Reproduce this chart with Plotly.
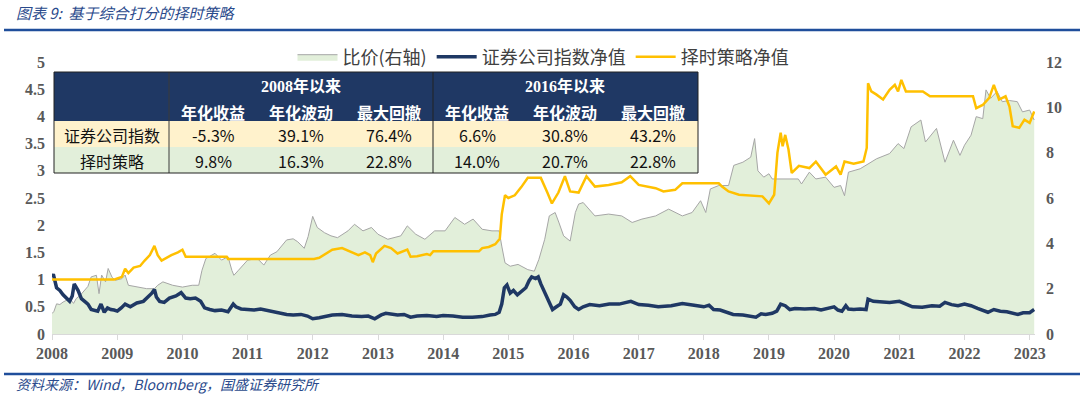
import plotly.graph_objects as go
from datetime import datetime

# ---------------- data ----------------
idx_t = [2008.0, 2008.02, 2008.07, 2008.12, 2008.17, 2008.22, 2008.27, 2008.31, 2008.34, 2008.4,
         2008.45, 2008.5, 2008.55, 2008.6, 2008.65, 2008.7, 2008.75, 2008.8, 2008.85, 2008.9,
         2008.95, 2009.0, 2009.06, 2009.12, 2009.2, 2009.3, 2009.4, 2009.48, 2009.53, 2009.57,
         2009.6, 2009.65, 2009.72, 2009.8, 2009.9, 2009.98, 2010.05, 2010.12, 2010.2, 2010.28,
         2010.34, 2010.42, 2010.5, 2010.6, 2010.7, 2010.78, 2010.82, 2010.9, 2011.0, 2011.1,
         2011.2, 2011.35, 2011.5, 2011.6, 2011.7, 2011.82, 2011.92, 2012.0, 2012.1, 2012.2,
         2012.3, 2012.45, 2012.6, 2012.75, 2012.85, 2012.95, 2013.05, 2013.12, 2013.2, 2013.3,
         2013.4, 2013.5, 2013.6, 2013.75, 2013.9, 2014.0, 2014.15, 2014.3, 2014.45, 2014.6,
         2014.72, 2014.8, 2014.86, 2014.9, 2014.94, 2014.98, 2015.03, 2015.08, 2015.14, 2015.2,
         2015.27, 2015.32, 2015.36, 2015.42, 2015.46, 2015.5, 2015.55, 2015.6, 2015.64, 2015.68,
         2015.74, 2015.8, 2015.85, 2015.9, 2015.95, 2016.02, 2016.08, 2016.15, 2016.25, 2016.4,
         2016.55, 2016.7, 2016.88, 2017.0, 2017.15, 2017.3, 2017.5, 2017.67, 2017.85, 2018.0,
         2018.08, 2018.15, 2018.25, 2018.36, 2018.45, 2018.6, 2018.7, 2018.8, 2018.88, 2018.95,
         2019.05, 2019.12, 2019.18, 2019.25, 2019.32, 2019.4, 2019.55, 2019.7, 2019.8, 2019.9,
         2020.0, 2020.06, 2020.12, 2020.18, 2020.22, 2020.3, 2020.4, 2020.49, 2020.52, 2020.6,
         2020.7, 2020.85, 2021.0, 2021.1, 2021.2, 2021.35, 2021.5, 2021.62, 2021.7, 2021.8,
         2021.9, 2022.0, 2022.1, 2022.2, 2022.3, 2022.36, 2022.45, 2022.55, 2022.65, 2022.75,
         2022.82, 2022.9, 2023.0, 2023.07]
idx_v = [1.05, 1.1, 0.85, 0.8, 0.72, 0.65, 0.6, 0.7, 0.92, 0.8,
         0.65, 0.6, 0.55, 0.45, 0.44, 0.42, 0.55, 0.4, 0.48, 0.45,
         0.44, 0.42, 0.48, 0.55, 0.5, 0.57, 0.6, 0.68, 0.75, 0.82,
         0.68, 0.6, 0.58, 0.66, 0.7, 0.76, 0.66, 0.65, 0.66, 0.6,
         0.48, 0.45, 0.43, 0.44, 0.41, 0.55, 0.5, 0.46, 0.45, 0.44,
         0.46, 0.42, 0.38, 0.36, 0.35, 0.36, 0.33, 0.28, 0.3, 0.33,
         0.35, 0.36, 0.33, 0.32, 0.33, 0.28, 0.35, 0.38, 0.36, 0.35,
         0.36, 0.31, 0.33, 0.34, 0.32, 0.34, 0.33, 0.31, 0.31, 0.32,
         0.35, 0.36, 0.4, 0.55, 0.85, 0.9, 0.75, 0.8, 0.72, 0.78,
         0.85, 0.98, 1.05, 1.02, 1.05, 0.92, 0.78, 0.65, 0.55, 0.45,
         0.5, 0.55, 0.72, 0.68, 0.62, 0.5, 0.45, 0.5, 0.54, 0.52,
         0.55, 0.55, 0.6, 0.54, 0.53, 0.5, 0.52, 0.56, 0.53, 0.5,
         0.53, 0.45, 0.44, 0.4, 0.36, 0.35, 0.33, 0.31, 0.37, 0.36,
         0.38, 0.42, 0.55, 0.52, 0.45, 0.47, 0.46, 0.47, 0.44, 0.47,
         0.5, 0.44, 0.42, 0.52, 0.46, 0.45, 0.46, 0.45, 0.64, 0.6,
         0.59, 0.58, 0.6, 0.55, 0.5, 0.49, 0.52, 0.51, 0.58, 0.54,
         0.52, 0.55, 0.52, 0.47, 0.42, 0.4, 0.45, 0.42, 0.41, 0.38,
         0.36, 0.39, 0.39, 0.45]

str_t = [2008.0, 2008.95, 2009.0, 2009.07, 2009.12, 2009.17, 2009.25, 2009.35, 2009.42, 2009.5,
         2009.57, 2009.62, 2009.68, 2009.75, 2009.83, 2009.93, 2010.0, 2010.05, 2010.68, 2010.7,
         2012.02, 2012.1, 2012.2, 2012.3, 2012.45, 2012.6, 2012.7, 2012.8, 2012.88, 2012.92,
         2012.97, 2013.1, 2013.2, 2013.3, 2013.45, 2013.5, 2013.6, 2013.75, 2013.8, 2013.85,
         2014.55, 2014.6, 2014.7, 2014.8, 2014.87, 2014.9, 2014.95, 2015.0, 2015.1, 2015.2,
         2015.3, 2015.5, 2015.55, 2015.6, 2015.67, 2015.77, 2015.87, 2015.95, 2016.08, 2016.2,
         2016.33, 2016.54, 2016.74, 2016.87, 2017.0, 2017.26, 2017.38, 2017.56, 2017.67, 2018.23,
         2018.28, 2018.38, 2018.54, 2018.9, 2019.0, 2019.08, 2019.13, 2019.18, 2019.21, 2019.25,
         2019.3, 2019.35, 2019.46, 2019.62, 2019.72, 2019.87, 2020.03, 2020.1, 2020.16, 2020.3,
         2020.45, 2020.5, 2020.52, 2020.57, 2020.65, 2020.75, 2020.85, 2020.93, 2020.98, 2021.03,
         2021.1, 2021.36, 2021.47, 2022.13, 2022.18, 2022.28, 2022.38, 2022.45, 2022.53, 2022.63,
         2022.69, 2022.74, 2022.84, 2022.92, 2023.0, 2023.07]
str_v = [1.0, 1.0, 1.02, 1.05, 1.2, 1.12, 1.22, 1.25, 1.35, 1.45,
         1.62, 1.45, 1.35, 1.4, 1.45, 1.5, 1.55, 1.42, 1.42, 1.38,
         1.38, 1.4, 1.48, 1.55, 1.58, 1.5, 1.45, 1.5, 1.45, 1.32,
         1.48, 1.62, 1.58, 1.48, 1.55, 1.42, 1.43, 1.47, 1.45, 1.52,
         1.52, 1.58, 1.6, 1.65, 1.75, 2.2, 2.55, 2.5, 2.55, 2.7,
         2.87, 2.87, 2.75, 2.6, 2.4, 2.6, 2.9, 2.62, 2.6, 2.9,
         2.71, 2.74, 2.79, 2.9, 2.74, 2.68, 2.62, 2.65, 2.77, 2.77,
         2.71, 2.62, 2.56, 2.53, 2.4, 2.56, 3.33, 3.7, 3.45, 3.66,
         3.39, 2.96, 3.09, 3.05, 3.17, 2.93, 3.08, 2.93, 3.17, 3.13,
         3.17, 3.42, 4.61, 4.46, 4.4, 4.31, 4.49, 4.58, 4.46, 4.67,
         4.46, 4.46, 4.37, 4.37, 4.15, 4.21, 4.34, 4.58, 4.31, 4.37,
         4.18, 3.82, 3.79, 3.94, 3.88, 4.09]

ratio_t = [2008.0, 2008.03, 2008.07, 2008.12, 2008.17, 2008.22, 2008.27, 2008.33, 2008.37, 2008.43,
           2008.48, 2008.55, 2008.6, 2008.68, 2008.72, 2008.76, 2008.82, 2008.86, 2008.92, 2008.97,
           2009.07, 2009.12, 2009.17, 2009.3, 2009.45, 2009.57, 2009.62, 2009.7, 2009.85, 2010.0,
           2010.15, 2010.25, 2010.3, 2010.36, 2010.5, 2010.6, 2010.7, 2010.76, 2010.79, 2010.86,
           2011.0, 2011.15, 2011.25, 2011.35, 2011.45, 2011.6, 2011.7, 2011.77, 2011.87, 2011.93,
           2012.0, 2012.07, 2012.18, 2012.28, 2012.38, 2012.54, 2012.64, 2012.77, 2012.9, 2013.0,
           2013.15, 2013.35, 2013.45, 2013.58, 2013.72, 2013.87, 2014.03, 2014.18, 2014.33, 2014.46,
           2014.6, 2014.75, 2014.86, 2014.9, 2014.95, 2015.03, 2015.15, 2015.3, 2015.4, 2015.47,
           2015.56, 2015.63, 2015.72, 2015.78, 2015.85, 2015.95, 2016.03, 2016.08, 2016.15, 2016.33,
           2016.54, 2016.74, 2016.9, 2017.05, 2017.26, 2017.46, 2017.67, 2017.82, 2017.95, 2018.03,
           2018.1, 2018.23, 2018.38, 2018.46, 2018.6, 2018.72, 2018.78, 2018.83, 2018.92, 2019.0,
           2019.05, 2019.45, 2019.5, 2019.62, 2019.72, 2019.87, 2020.0, 2020.1, 2020.16, 2020.22,
           2020.4, 2020.52, 2020.65, 2020.85, 2020.98, 2021.07, 2021.18, 2021.33, 2021.4, 2021.57,
           2021.7, 2021.83, 2021.93, 2022.0, 2022.1, 2022.18, 2022.28, 2022.33, 2022.4, 2022.5,
           2022.58, 2022.69, 2022.81, 2022.89, 2023.0, 2023.07]
ratio_v = [0.9, 1.0, 1.33, 1.3, 1.41, 1.5, 1.56, 1.35, 1.56, 1.7,
           1.85, 2.1, 2.52, 2.59, 1.78, 2.6, 2.3, 2.89, 2.5, 2.37,
           2.44, 2.6, 2.15, 2.07, 2.0, 2.0, 2.15, 2.3, 2.15, 2.07,
           2.15, 2.15, 2.81, 3.33, 3.56, 3.26, 3.41, 2.8, 2.59, 2.81,
           3.26, 3.33, 3.04, 3.48, 3.63, 4.15, 4.2, 4.07, 3.78, 4.3,
           5.19, 4.7, 4.47, 4.33, 4.25, 4.55, 4.84, 4.55, 4.7, 4.4,
           4.18, 4.33, 4.77, 4.4, 4.18, 4.55, 4.55, 5.14, 4.84, 5.07,
           4.62, 4.55, 4.55, 3.88, 3.14, 2.99, 3.07, 2.84, 2.77, 3.29,
           4.18, 5.21, 5.36, 4.9, 4.33, 4.1, 5.36, 5.73, 5.8, 5.21,
           5.29, 5.21, 4.92, 5.07, 5.21, 5.51, 5.21, 5.36, 5.88, 5.36,
           6.4, 6.55, 6.55, 7.44, 7.58, 7.8, 8.62, 7.2, 6.92, 7.07,
           6.84, 6.84, 6.62, 7.14, 6.84, 6.92, 6.47, 6.55, 6.1, 7.14,
           7.29, 7.5, 7.73, 7.96, 8.4, 8.18, 9.14, 9.44, 8.47, 9.07,
           7.58, 8.55, 7.88, 8.33, 8.77, 9.59, 9.5, 10.77, 10.4, 10.7,
           10.25, 10.3, 10.25, 9.8, 9.88, 9.44]

series_names = ["比价(右轴)", "证券公司指数净值", "择时策略净值"]

table_groups = ["2008年以来", "2016年以来"]
table_metrics = ["年化收益", "年化波动", "最大回撤"]
table_rows = ["证券公司指数", "择时策略"]
table_values = [["-5.3%", "39.1%", "76.4%", "6.6%", "30.8%", "43.2%"],
                ["9.8%", "16.3%", "22.8%", "14.0%", "20.7%", "22.8%"]]

title_text = "图表 9:  基于综合打分的择时策略"
source_text = "资料来源：Wind，Bloomberg，国盛证券研究所"

assert len(idx_t) == len(idx_v)
assert len(str_t) == len(str_v)
assert len(ratio_t) == len(ratio_v)


def to_date(t):
    y = int(t)
    a, b = datetime(y, 1, 1), datetime(y + 1, 1, 1)
    return a + (b - a) * (t - y)


# ---------------- layout geometry (pixels) ----------------
W, H = 1080, 399
L, R, T, B = 52, 1035, 62, 334
PW, PH = R - L, B - T


def px(x):
    return (x - L) / PW


def py(y):
    return (B - y) / PH


CJK = "Noto Sans CJK SC"
AXFONT = dict(family="Liberation Serif, serif", size=16, color="#595959", weight="bold")
NAVY = "#1F3864"
YEL = "#FFC000"
BLUE = "#1F4E9B"

fig = go.Figure()
# ratio on the primary axis (drawn underneath), shown on the right side
fig.add_trace(go.Scatter(
    x=[to_date(t) for t in ratio_t], y=ratio_v, name=series_names[0], yaxis="y",
    mode="lines", line=dict(color="#A6A6A6", width=1), fill="tozeroy",
    fillcolor="#E2EFDA"))
# net values on the overlaying axis (drawn on top), shown on the left side
fig.add_trace(go.Scatter(
    x=[to_date(t) for t in idx_t], y=idx_v, name=series_names[1], yaxis="y2",
    mode="lines", line=dict(color=NAVY, width=3.5)))
fig.add_trace(go.Scatter(
    x=[to_date(t) for t in str_t], y=str_v, name=series_names[2], yaxis="y2",
    mode="lines", line=dict(color=YEL, width=2.5)))

fig.update_layout(
    width=W, height=H, autosize=False,
    margin=dict(l=L, r=W - R, t=T, b=H - B, pad=0),
    paper_bgcolor="white", plot_bgcolor="white",
    showlegend=True,
    legend=dict(orientation="h", x=0.5, xanchor="center", y=py(57), yanchor="middle",
                font=dict(family=CJK, size=18, color="#404040"),
                bgcolor="rgba(0,0,0,0)", itemwidth=40, traceorder="normal"),
    xaxis=dict(type="date", range=[datetime(2008, 1, 1), datetime(2023, 1, 31)],
               tick0="2008-01-01", dtick="M12", tickformat="%Y",
               showgrid=False, zeroline=False, showline=True, linecolor="#D9D9D9",
               linewidth=1, ticks="outside", ticklen=5, tickcolor="#D9D9D9",
               tickfont=AXFONT),
    yaxis=dict(range=[0, 12], dtick=2, side="right", showgrid=False, zeroline=False,
               showline=False, tickfont=AXFONT, ticklabelstandoff=10),
    yaxis2=dict(range=[0, 5], dtick=0.5, overlaying="y", side="left", showgrid=False,
                zeroline=False, showline=False, tickfont=AXFONT, ticklabelstandoff=6),
)

shapes = []
annotations = []

# header / footer rules and texts
shapes.append(dict(type="line", xref="paper", yref="paper", x0=px(4), x1=px(1080),
                   y0=py(30), y1=py(30), line=dict(color=BLUE, width=2.5)))
shapes.append(dict(type="line", xref="paper", yref="paper", x0=px(4), x1=px(1080),
                   y0=py(374), y1=py(374), line=dict(color=BLUE, width=2.5)))
annotations.append(dict(text=title_text, xref="paper", yref="paper", x=px(14), y=py(13),
                        xanchor="left", yanchor="middle", showarrow=False,
                        font=dict(family=CJK, size=15, color="#2A4A8C", style="italic")))
annotations.append(dict(text=source_text, xref="paper", yref="paper", x=px(14), y=py(384),
                        xanchor="left", yanchor="middle", showarrow=False,
                        font=dict(family=CJK, size=14, color="#2A4A8C", style="italic")))

# ---------------- table ----------------
tx0, tx1, tcol, tsep = 54, 698, 169, 433
ty0, yhead, yrow, ty1 = 72, 121, 147, 173
col_centers = [213, 301, 389, 477, 565, 653]
group_centers = [301, 565]
row_fills = ["#FFF2CC", "#E2EFDA"]


def rect(x0, y0, x1, y1, color):
    shapes.append(dict(type="rect", xref="paper", yref="paper", layer="above",
                       x0=px(x0), x1=px(x1), y0=py(y1), y1=py(y0),
                       fillcolor=color, line=dict(width=0)))


def vline(x, y0, y1, color="#222222", w=1):
    shapes.append(dict(type="line", xref="paper", yref="paper", layer="above",
                       x0=px(x), x1=px(x), y0=py(y0), y1=py(y1), line=dict(color=color, width=w)))


def hline(y, x0, x1, color="#222222", w=1):
    shapes.append(dict(type="line", xref="paper", yref="paper", layer="above",
                       x0=px(x0), x1=px(x1), y0=py(y), y1=py(y), line=dict(color=color, width=w)))


rect(tx0, ty0, tx1, yhead, NAVY)
rect(tx0, yhead, tx1, yrow, row_fills[0])
rect(tx0, yrow, tx1, ty1, row_fills[1])
vline(tcol, ty0, ty1, color="#3A3A3A")
vline(tsep, ty0, ty1)
hline(ty0, tx0, tx1)
hline(ty1, tx0, tx1)
vline(tx0, ty0, ty1)
vline(tx1, ty0, ty1)


def txt(s, x, y, color, bold=False, size=16, family=CJK):
    annotations.append(dict(text=s, xref="paper", yref="paper", x=px(x), y=py(y),
                            xanchor="center", yanchor="middle", showarrow=False,
                            font=dict(family=family, size=size, color=color,
                                      weight="bold" if bold else "normal")))


for g, cx in zip(table_groups, group_centers):
    txt(g, cx, 86, "white", bold=True, family="Liberation Serif, " + CJK)
for i, cx in enumerate(col_centers):
    txt(table_metrics[i % 3], cx, 112, "white", bold=True)
row_y = [134.5, 160.5]
for r, name in enumerate(table_rows):
    txt(name, (tx0 + tcol) / 2, row_y[r], "#111111")
    for c, cx in enumerate(col_centers):
        txt(table_values[r][c], cx, row_y[r], "#111111")

fig.update_layout(shapes=shapes, annotations=annotations)
fig.write_html("out.html",
               config={"displayModeBar": False},
               post_script="document.body.style.margin='0px';"
                           "document.body.style.overflow='hidden';")
